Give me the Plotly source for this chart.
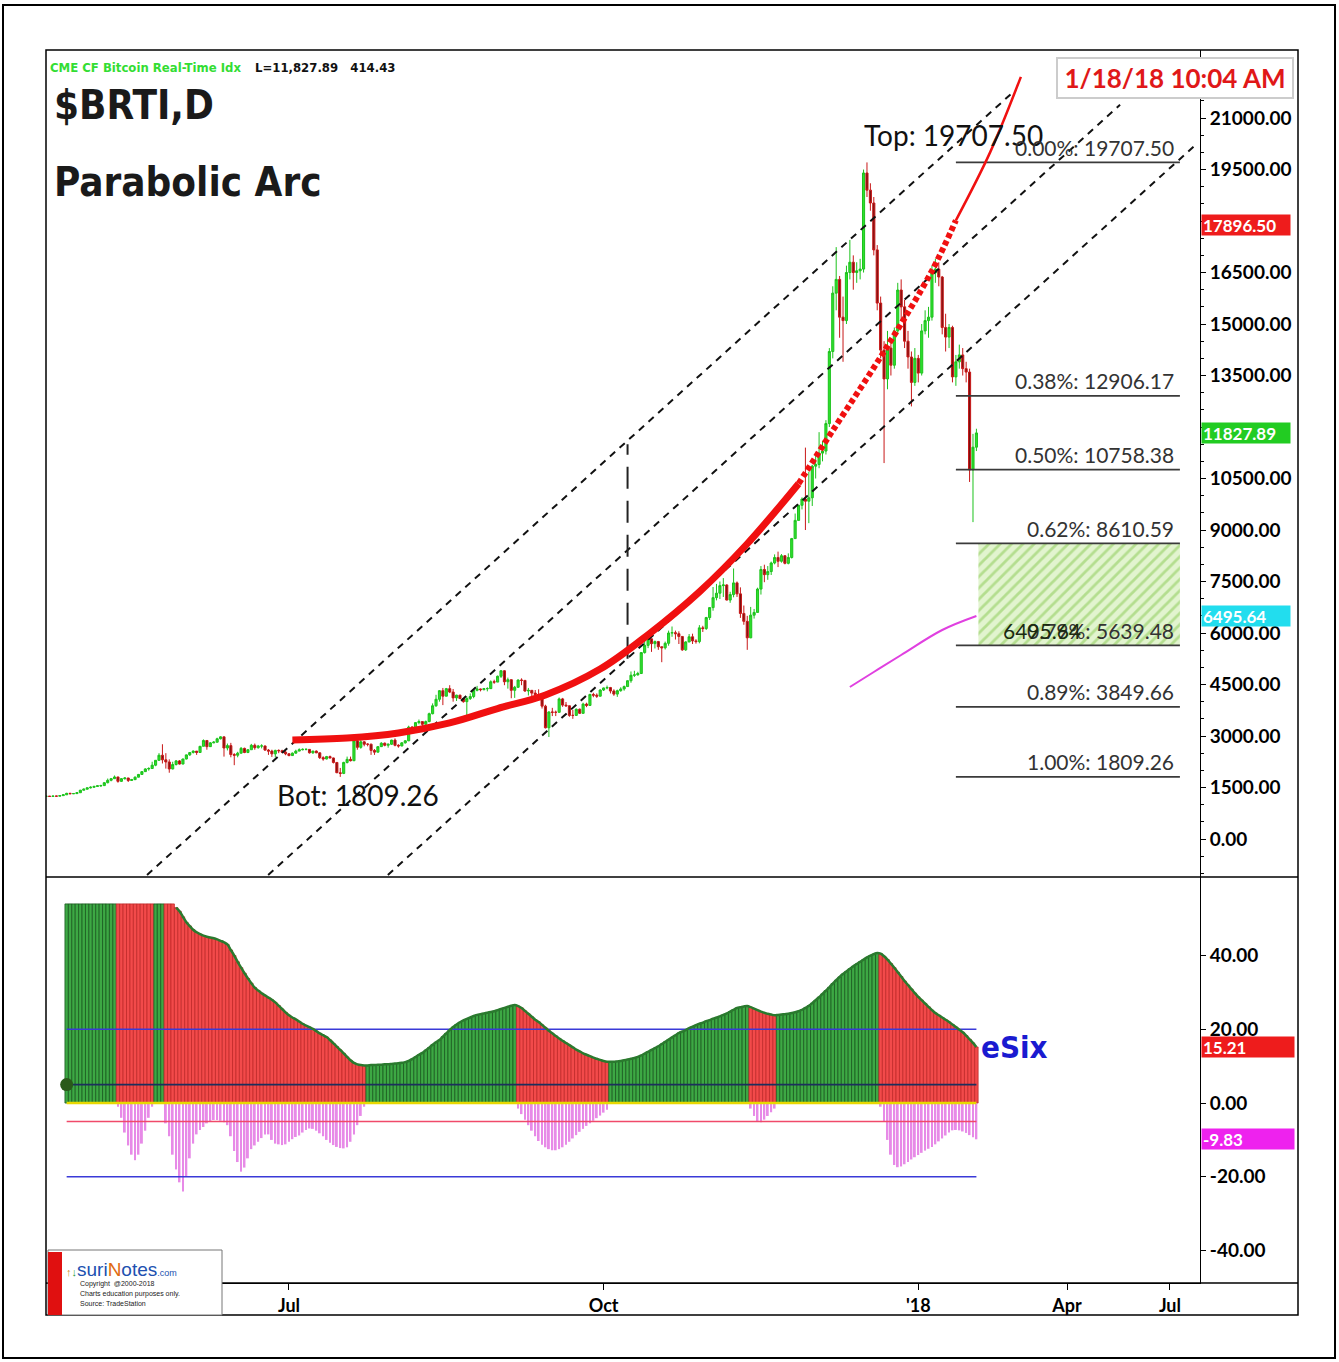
import plotly.graph_objects as go
import pandas as pd

# ---------------- price bars (daily, 2017-04-21 .. 2018-01-18) ----------------
price_start = "2017-04-21"
price_end = "2018-01-18"
first_open = 1236

close_apr = [1248, 1240, 1250, 1248, 1263, 1287, 1330, 1320, 1322, 1348]
high_apr = [1255, 1250, 1257, 1255, 1270, 1295, 1345, 1345, 1330, 1355]
low_apr = [1230, 1225, 1235, 1238, 1245, 1262, 1285, 1300, 1310, 1318]

close_may = [1421, 1451, 1490, 1507, 1532, 1549, 1555, 1640, 1710, 1757, 1807, 1679, 1757, 1777, 1706, 1728,
             1801, 1880, 1962, 2041, 2053, 2150, 2292, 2439, 2306, 2244, 2040, 2170, 2275, 2183, 2330]
high_may = [1430, 1470, 1495, 1535, 1545, 1570, 1580, 1650, 1760, 1770, 1850, 1810, 1775, 1800, 1780, 1750,
            1820, 1895, 1980, 2060, 2090, 2250, 2300, 2500, 2760, 2500, 2320, 2250, 2300, 2300, 2340]
low_may = [1345, 1415, 1440, 1470, 1490, 1520, 1520, 1550, 1620, 1680, 1750, 1640, 1660, 1730, 1660, 1690,
           1720, 1795, 1870, 1960, 1990, 2050, 2120, 2280, 2200, 2050, 1930, 2030, 2140, 2170, 2180]

close_jun = [2450, 2520, 2560, 2520, 2700, 2870, 2690, 2800, 2820, 2920, 2975, 2650, 2720, 2460, 2440,
             2500, 2640, 2520, 2600, 2730, 2660, 2710, 2710, 2590, 2560, 2480, 2580, 2570, 2530, 2480]
high_jun = [2460, 2530, 2580, 2560, 2710, 2900, 2880, 2820, 2850, 2950, 2990, 2980, 2780, 2800, 2500,
            2540, 2680, 2660, 2620, 2770, 2780, 2740, 2760, 2720, 2620, 2600, 2600, 2610, 2600, 2560]
low_jun = [2320, 2420, 2490, 2450, 2510, 2700, 2600, 2680, 2790, 2810, 2900, 2400, 2580, 2380, 2150,
           2380, 2490, 2500, 2500, 2600, 2600, 2630, 2640, 2570, 2450, 2390, 2380, 2500, 2510, 2440]

close_jul = [2430, 2500, 2560, 2600, 2610, 2610, 2510, 2560, 2510, 2370, 2330, 2400, 2360, 2230, 1930, 1910,
             2230, 2320, 2280, 2860, 2670, 2830, 2760, 2760, 2580, 2530, 2690, 2790, 2730, 2760, 2880]
high_jul = [2500, 2520, 2600, 2640, 2640, 2640, 2620, 2570, 2580, 2520, 2410, 2420, 2430, 2370, 2240, 2070,
            2250, 2400, 2400, 2900, 2920, 2880, 2850, 2790, 2780, 2620, 2700, 2820, 2810, 2780, 2890]
low_jul = [2410, 2420, 2490, 2560, 2580, 2580, 2490, 2480, 2500, 2330, 2280, 2320, 2350, 2200, 1920, 1809.26,
           1890, 2200, 2260, 2270, 2600, 2630, 2700, 2700, 2450, 2450, 2520, 2680, 2700, 2660, 2740]

close_aug = [2730, 2710, 2800, 2860, 3260, 3220, 3390, 3420, 3340, 3420, 3650, 3880, 4070, 4320, 4160, 4380,
             4280, 4110, 4190, 4090, 4000, 4090, 4150, 4330, 4370, 4350, 4380, 4380, 4580, 4570, 4740]
high_aug = [2930, 2760, 2820, 2880, 3300, 3290, 3400, 3480, 3420, 3450, 3680, 3950, 4200, 4340, 4400, 4400,
            4480, 4370, 4200, 4200, 4100, 4150, 4240, 4360, 4460, 4380, 4400, 4420, 4620, 4640, 4760]
low_aug = [2700, 2660, 2700, 2780, 2850, 3160, 3210, 3340, 3240, 3330, 3400, 3630, 3850, 4000, 3900, 4160,
           4250, 4000, 4020, 4080, 3970, 3600, 4050, 4100, 4300, 4300, 4330, 4300, 4370, 4520, 4580]

close_sep = [4900, 4580, 4640, 4330, 4420, 4630, 4620, 4310, 4330, 4250, 4210, 4170, 3870, 3240, 3700,
             3690, 3690, 4080, 3900, 3880, 3600, 3600, 3780, 3660, 3930, 3890, 4210, 4190, 4160, 4340]
high_sep = [4920, 4920, 4700, 4650, 4460, 4650, 4680, 4630, 4400, 4300, 4340, 4360, 4190, 3910, 3720,
            3820, 3740, 4120, 4110, 3990, 3890, 3760, 3800, 3800, 3970, 3970, 4230, 4260, 4240, 4360]
low_sep = [4690, 4480, 4380, 4100, 4110, 4400, 4480, 4290, 4180, 4020, 4150, 4120, 3800, 3220, 2970,
           3580, 3580, 3680, 3850, 3850, 3560, 3500, 3590, 3640, 3650, 3840, 3880, 4130, 4110, 4150]

close_oct = [4400, 4410, 4310, 4220, 4320, 4370, 4440, 4610, 4770, 4780, 4820, 5430, 5640, 5830, 5690, 5750,
             5600, 5570, 5700, 6000, 6010, 5980, 5900, 5510, 5740, 5890, 5770, 5750, 6150, 6130, 6450]
high_oct = [4410, 4470, 4430, 4360, 4350, 4420, 4470, 4620, 4880, 4900, 4870, 5440, 5850, 5840, 5840, 5780,
            5770, 5600, 5750, 6070, 6190, 6070, 6050, 5900, 5760, 5970, 5980, 5820, 6230, 6210, 6470]
low_oct = [4310, 4360, 4240, 4170, 4140, 4290, 4320, 4430, 4550, 4720, 4760, 4810, 5400, 5560, 5450, 5550,
           5510, 5150, 5520, 5630, 5890, 5810, 5680, 5480, 5480, 5730, 5680, 5690, 5700, 6030, 6090]

close_nov = [6740, 7030, 7160, 7380, 7400, 6960, 7120, 7460, 7140, 6570, 6340, 5860, 6520, 6600, 7280,
             7850, 7700, 7790, 8040, 8200, 8090, 8250, 8030, 8200, 8750, 9280, 9720, 9900, 9840, 9940]
high_nov = [6750, 7340, 7430, 7500, 7600, 7420, 7200, 7880, 7500, 7330, 6800, 6500, 6760, 6700, 7320,
            7950, 7990, 7950, 8080, 8290, 8370, 8300, 8270, 8320, 8770, 9480, 9720, 9950, 11400, 10700]
low_nov = [6380, 6650, 6950, 6990, 7050, 6950, 6880, 7040, 7050, 6440, 6240, 5510, 5850, 6420, 6600,
           7120, 7480, 7550, 7690, 8000, 7920, 8050, 8000, 8000, 8170, 8750, 9280, 9600, 9000, 9200]

close_dec = [10860, 10910, 11240, 11300, 12100, 14200, 15900, 16300, 15200, 15100, 16500, 16800, 16500, 16550,
             16600, 19400, 18900, 18525, 17160, 15610, 14240, 13400, 14300, 13800, 14800, 15990, 15500, 14500,
             14040, 13300, 14000]
high_dec = [10900, 11200, 11850, 11600, 12200, 14300, 16100, 17240, 16400, 15800, 16700, 17450, 17000, 16800,
            16900, 19500, 19707.5, 19100, 18700, 17300, 15800, 14500, 14800, 14500, 14900, 16200, 16300, 15700,
            14800, 14200, 14300]
low_dec = [9700, 10500, 10800, 11000, 11200, 12000, 14000, 15400, 14600, 13900, 15000, 16300, 16000, 16200,
           16300, 16500, 18700, 18300, 17000, 15400, 14000, 10950, 13100, 13500, 13700, 14700, 15100, 14300,
           13700, 12600, 13200]

close_jan = [13570, 14800, 15100, 15200, 16490, 16600, 16370, 14900, 14620, 14900, 13460, 13900, 14100, 13700,
             13600, 10750, 11413, 11827.89]
high_jan = [14100, 15000, 15400, 15500, 16700, 16900, 16800, 16400, 15300, 15000, 14950, 14100, 14400, 14300,
            13900, 13700, 11800, 11950]
low_jan = [13300, 13500, 14700, 14600, 15100, 16200, 16100, 14700, 14200, 14300, 13300, 13200, 13700, 13500,
           13300, 10400, 9230, 11300]

# ---------------- eSix indicator (daily, 2017-04-27 .. 2018-01-18) ----------------
esix_start = "2017-04-27"
esix_values = (
    [54] * 15 +                       # up
    [54] * 11 +                       # down
    [54] * 3 +                        # up
    [54, 54, 54, 53, 52, 50.5, 49, 48, 47, 46.3, 45.8, 45.4, 45.1, 44.9, 44.7, 44.4, 44.0, 43.6, 43.0, 41.5,
     40.0, 38.3, 36.7, 35.2, 33.8, 32.5, 31.3, 30.5, 29.8, 29.2, 28.6, 28.0, 27.3, 26.4, 25.5, 24.6, 23.8,
     23.2, 22.7, 22.1, 21.5, 21.0, 20.6, 20.1, 19.5, 18.9, 18.4, 17.9, 17.1, 16.2, 15.3, 14.4, 13.5, 12.5,
     11.6, 10.9, 10.5, 10.3, 10.2] +  # down
    [10.2, 10.3, 10.3, 10.4, 10.4, 10.5, 10.5, 10.6, 10.7, 10.8, 10.9, 11.1, 11.4, 11.9, 12.5, 13.1, 13.6,
     14.3, 15.0, 15.8, 16.5, 17.1, 18.0, 18.9, 19.8, 20.6, 21.3, 21.9, 22.4, 22.8, 23.2, 23.6, 23.9, 24.1,
     24.3, 24.5, 24.7, 24.9, 25.2, 25.5, 25.8, 26.1, 26.4, 26.6] +  # up
    [26.3, 25.8, 25.0, 24.2, 23.4, 22.6, 22.0, 21.2, 20.4, 19.6, 18.9, 18.2, 17.5, 16.9, 16.3, 15.7, 15.1,
     14.5, 14.0, 13.5, 13.1, 12.7, 12.3, 12.0, 11.7, 11.4, 11.2] +  # down
    [11.2, 11.2, 11.3, 11.4, 11.6, 11.8, 12.0, 12.2, 12.5, 12.9, 13.4, 13.9, 14.4, 14.9, 15.4, 16.0, 16.6,
     17.2, 17.8, 18.4, 19.0, 19.4, 19.8, 20.3, 20.7, 21.1, 21.5, 21.8, 22.2, 22.5, 22.9, 23.2, 23.5, 23.9,
     24.3, 24.8, 25.3, 25.8, 26.0, 26.2, 26.3] +  # up
    [26.0, 25.6, 25.2, 24.8, 24.5, 24.2, 24.0, 23.8] +  # down
    [23.9, 24.0, 24.1, 24.2, 24.4, 24.6, 24.9, 25.3, 25.8, 26.4, 27.1, 27.9, 28.7, 29.6, 30.5, 31.4, 32.4,
     33.3, 34.2, 35.0, 35.7, 36.4, 37.1, 37.7, 38.3, 38.9, 39.5, 40.0, 40.4, 40.7] +  # up
    [40.5, 39.8, 38.9, 37.8, 36.7, 35.5, 34.3, 33.1, 32.0, 30.9, 29.8, 28.8, 27.9, 27.0, 26.1, 25.2, 24.4,
     23.8, 23.2, 22.6, 22.0, 21.3, 20.6, 19.9, 19.2, 18.3, 17.3, 16.3, 15.21]  # down
)
esix_regime_lengths = [15, 11, 3, 59, 44, 27, 41, 8, 30, 29]
esix_first_regime_up = True

esix_neg_values = (
    [0] * 15 +
    [-1, -4, -8, -11.5, -14, -15.5, -14, -11, -7.5, -4, -1] +
    [0] * 3 +
    [-5.5, -9, -14, -18, -21.5, -24, -20, -15, -11, -8.5, -7.3, -6.5, -5.5, -5, -4.6, -4.6, -4.8, -5.2, -6,
     -9, -13, -16, -18.6, -17.5, -15, -12.5, -11.5, -10.5, -9.5, -8.5, -8.5, -10, -11, -11.2, -11.4, -11.2,
     -10.5, -9.8, -9.2, -8.8, -8, -7.3, -6.9, -7, -7.5, -8.2, -9, -10, -10.8, -11.4, -11.9, -12.2, -12.3,
     -12, -10.5, -8.5, -6, -3.5, -1] +
    [0] * 44 +
    [-1.5, -3, -4.5, -6, -7.5, -9, -10.3, -11.3, -12, -12.5, -12.8, -12.8, -12.5, -12, -11.3, -10.5, -9.6,
     -8.7, -7.8, -7, -6.2, -5.5, -4.8, -4.1, -3.4, -2.6, -1.8] +
    [0] * 41 +
    [-1.5, -3.5, -5, -5.2, -4.5, -3.5, -2.5, -1.5] +
    [0] * 30 +
    [-1, -5, -10, -14, -16.8, -17.4, -17.2, -16.6, -16, -15.3, -14.7, -14.1, -13.5, -12.9, -12.4, -11.9,
     -11.2, -10.4, -9.6, -8.8, -8.0, -7.4, -7.3, -7.4, -7.7, -8.1, -8.7, -9.3, -9.83]
)
esix_levels = [20, 5, 0, -5, -20]
esix_envelope_start = "2017-05-29"

# ---------------- drawings on the price panel ----------------
chan_start_dates = ["2017-05-20 12:00", "2017-06-24 22:00", "2017-07-29 22:00"]
chan_end_dates = ["2018-01-28", "2018-03-01", "2018-03-22 22:00"]
chan_start_prices = [-1049, -1049, -1049]
chan_end_prices = [21691, 21385, 20205]

arc_dates = ["2017-07-02", "2017-07-18", "2017-08-02", "2017-08-17", "2017-08-31", "2017-09-14",
             "2017-09-30", "2017-10-14", "2017-10-29", "2017-11-12", "2017-11-27", "2017-12-07",
             "2017-12-22", "2018-01-05", "2018-01-12", "2018-01-22", "2018-01-31"]
arc_prices = [2884, 2942, 3088, 3380, 3800, 4195, 4950, 5950, 7200, 8600, 10350, 11900,
              14200, 16550, 18020, 20000, 22200]

ma_dates = ["2017-12-12", "2017-12-19", "2017-12-27", "2018-01-08", "2018-01-18"]
ma_prices = [4428, 4865, 5360, 6088, 6495.64]

vline_date = "2017-10-08"
vline_prices = [5250, 11500]

fib_ratios = ["0.00", "0.38", "0.50", "0.62", "0.79", "0.89", "1.00"]
fib_prices = [19707.50, 12906.17, 10758.38, 8610.59, 5639.48, 3849.66, 1809.26]
fib_start = "2018-01-12"
fib_end = "2018-03-18 12:00"
zone_start = "2018-01-18 14:00"
zone_low, zone_high = 5639.48, 8610.59

top_price, bot_price = 19707.50, 1809.26
last_price = 11827.89
net_change = 414.43
arc_last = 17896.50
ma_last = 6495.64
esix_last = 15.21
esix_neg_last = -9.83

price_ticks = [0, 1500, 3000, 4500, 6000, 7500, 9000, 10500, 13500, 15000, 16500, 19500, 21000]
esix_ticks = [-40, -20, 0, 20, 40]
x_tick_dates = ["2017-07-01", "2017-10-01", "2018-01-01", "2018-02-13 12:00", "2018-03-15 14:00"]
x_tick_text = ["Jul", "Oct", "'18", "Apr", "Jul"]

# ---------------- assemble ----------------
dates = pd.date_range(price_start, price_end, freq="D")
closes = close_apr + close_may + close_jun + close_jul + close_aug + close_sep + close_oct + close_nov + close_dec + close_jan
highs = high_apr + high_may + high_jun + high_jul + high_aug + high_sep + high_oct + high_nov + high_dec + high_jan
lows = low_apr + low_may + low_jun + low_jul + low_aug + low_sep + low_oct + low_nov + low_dec + low_jan
assert len(closes) == len(dates) == len(highs) == len(lows), (len(closes), len(dates), len(highs), len(lows))
opens = [first_open] + closes[:-1]
highs = [max(h, o, c) for h, o, c in zip(highs, opens, closes)]
lows = [min(l, o, c) for l, o, c in zip(lows, opens, closes)]

edates = pd.date_range(esix_start, price_end, freq="D")
assert len(esix_values) == len(edates) == len(esix_neg_values) == sum(esix_regime_lengths), \
    (len(esix_values), len(edates), len(esix_neg_values), sum(esix_regime_lengths))
up_flags = []
flag = esix_first_regime_up
for n in esix_regime_lengths:
    up_flags += [flag] * n
    flag = not flag

UP_FILL, UP_LINE = "#3da844", "#1b5a20"
DN_FILL, DN_LINE = "#f24a4a", "#c02a2a"

NARROW = "Liberation Sans Narrow, Arial Narrow, DejaVu Sans Condensed, sans-serif"
LATO = "Lato, Open Sans, sans-serif"

fig = go.Figure()

fig.add_trace(go.Candlestick(
    x=dates, open=opens, high=highs, low=lows, close=closes,
    increasing=dict(line=dict(color="#1cc21c", width=1), fillcolor="#2ee02e"),
    decreasing=dict(line=dict(color="#c81818", width=1), fillcolor="#7c1010"),
    whiskerwidth=0, xaxis="x", yaxis="y", showlegend=False, hoverinfo="skip"))

# channel lines
for sd, ed, sp, ep in zip(chan_start_dates, chan_end_dates, chan_start_prices, chan_end_prices):
    fig.add_trace(go.Scatter(x=[sd, ed], y=[sp, ep], mode="lines",
                             line=dict(color="#111111", width=2, dash="7px,6px"),
                             xaxis="x", yaxis="y", showlegend=False, hoverinfo="skip"))

# vertical long-dash line
fig.add_trace(go.Scatter(x=[vline_date, vline_date], y=vline_prices, mode="lines",
                         line=dict(color="#222222", width=2, dash="22px,12px"),
                         xaxis="x", yaxis="y", showlegend=False, hoverinfo="skip"))

# hatched target zone
fig.add_trace(go.Scatter(x=[zone_start, fib_end, fib_end, zone_start, zone_start],
                         y=[zone_low, zone_low, zone_high, zone_high, zone_low],
                         mode="lines", line=dict(width=0), fill="toself", fillcolor="#d9f0c0",
                         fillpattern=dict(shape="/", fgcolor="#86c850", bgcolor="#e2f4cf", size=8, solidity=0.35),
                         xaxis="x", yaxis="y", showlegend=False, hoverinfo="skip"))

# fib lines
fx, fy = [], []
for p in fib_prices:
    fx += [fib_start, fib_end, None]
    fy += [p, p, None]
fig.add_trace(go.Scatter(x=fx, y=fy, mode="lines", line=dict(color="#3a3a3a", width=1.6),
                         xaxis="x", yaxis="y", showlegend=False, hoverinfo="skip"))

# magenta average
fig.add_trace(go.Scatter(x=ma_dates, y=ma_prices, mode="lines", line=dict(color="#e040e0", width=2, shape="spline"),
                         xaxis="x", yaxis="y", showlegend=False, hoverinfo="skip"))

# parabolic arc: thick, dotted, thin
fig.add_trace(go.Scatter(x=arc_dates[:11], y=arc_prices[:11], mode="lines",
                         line=dict(color="#f01010", width=7, shape="spline"),
                         xaxis="x", yaxis="y", showlegend=False, hoverinfo="skip"))
fig.add_trace(go.Scatter(x=arc_dates[10:15], y=arc_prices[10:15], mode="lines",
                         line=dict(color="#f01010", width=6, shape="spline", dash="5px,3px"),
                         xaxis="x", yaxis="y", showlegend=False, hoverinfo="skip"))
fig.add_trace(go.Scatter(x=arc_dates[14:], y=arc_prices[14:], mode="lines",
                         line=dict(color="#f01010", width=2.5, shape="spline"),
                         xaxis="x", yaxis="y", showlegend=False, hoverinfo="skip"))

# ---- indicator panel ----
fig.add_trace(go.Bar(x=edates, y=esix_values, width=86400000,
                     marker=dict(color=[UP_FILL if u else DN_FILL for u in up_flags],
                                 line=dict(color=[UP_LINE if u else DN_LINE for u in up_flags], width=0.8)),
                     xaxis="x2", yaxis="y2", showlegend=False, hoverinfo="skip"))
fig.add_trace(go.Bar(x=edates, y=esix_neg_values, width=86400000 * 0.55,
                     marker=dict(color="#e78ae7", line=dict(width=0)),
                     xaxis="x2", yaxis="y2", showlegend=False, hoverinfo="skip"))

level_colors = ["#3a3ad8", "#1c2f5c", "#e8d800", "#f04a6a", "#3a3ad8"]
for lv, col in zip(esix_levels, level_colors):
    fig.add_trace(go.Scatter(x=[edates[0], edates[-1]], y=[lv, lv], mode="lines",
                             line=dict(color=col, width=1.6 if lv != 0 else 2.5),
                             xaxis="x2", yaxis="y2", showlegend=False, hoverinfo="skip"))

env_mask = [d >= pd.Timestamp(esix_envelope_start) for d in edates]
fig.add_trace(go.Scatter(x=[d for d, m in zip(edates, env_mask) if m],
                         y=[v for v, m in zip(esix_values, env_mask) if m],
                         mode="lines", line=dict(color="#2a7a2e", width=2.5, shape="spline"),
                         xaxis="x2", yaxis="y2", showlegend=False, hoverinfo="skip"))
fig.add_trace(go.Scatter(x=[edates[0]], y=[esix_levels[1]], mode="markers",
                         marker=dict(color="#2a5a1a", size=13),
                         xaxis="x2", yaxis="y2", showlegend=False, hoverinfo="skip"))

# ---------------- layout ----------------
W, H = 1339, 1362
L, R, T, B = 46, 139, 50, 79
PW, PH = W - L - R, H - T - B
split = (1283 - 877) / PH


def px_x(px):
    return (px - L) / PW


def px_y(py):
    return (H - B - py) / PH


fig.update_layout(
    width=W, height=H, autosize=False,
    margin=dict(l=L, r=R, t=T, b=B),
    paper_bgcolor="white", plot_bgcolor="white",
    barmode="overlay", showlegend=False, boxgap=0.12,
    font=dict(family=LATO, color="black"),
    xaxis=dict(type="date", domain=[0, 1], anchor="y",
               range=["2017-04-20 23:00", "2018-03-24 09:00"],
               showticklabels=False, ticks="", showgrid=False, zeroline=False,
               rangeslider=dict(visible=False)),
    xaxis2=dict(type="date", domain=[0, 1], anchor="y2", matches="x",
                range=["2017-04-20 23:00", "2018-03-24 09:00"],
                tickmode="array", tickvals=x_tick_dates, ticktext=x_tick_text,
                ticks="outside", ticklen=6, tickcolor="black", showline=True, linecolor="black",
                showgrid=False, zeroline=False,
                tickfont=dict(family=LATO, size=18, color="black", weight="bold")),
    yaxis=dict(domain=[split, 1], anchor="x", side="right",
               range=[-1107, 22982], tickmode="array", tickvals=price_ticks,
               ticktext=[f"{v:.2f}" for v in price_ticks],
               ticks="outside", ticklen=5, tickcolor="black",
               minor=dict(tickmode="linear", tick0=0, dtick=500, ticks="outside", ticklen=3, tickcolor="black"),
               showline=True, linecolor="black", showgrid=False, zeroline=False,
               tickfont=dict(family=LATO, size=19, color="black", weight="bold")),
    yaxis2=dict(domain=[0, split], anchor="x2", side="right",
                range=[-48.8, 61.3], tickmode="array", tickvals=esix_ticks,
                ticktext=[f"{v:.2f}" for v in esix_ticks],
                ticks="outside", ticklen=5, tickcolor="black",
                showline=True, linecolor="black", showgrid=False, zeroline=False,
                tickfont=dict(family=LATO, size=19, color="black", weight="bold")),
)

shapes = [
    dict(type="rect", xref="paper", yref="paper", x0=px_x(3), x1=px_x(1335), y0=px_y(1358), y1=px_y(5),
         line=dict(color="black", width=2)),
    dict(type="rect", xref="paper", yref="paper", x0=px_x(46), x1=px_x(1298), y0=px_y(1315), y1=px_y(50),
         line=dict(color="black", width=1.5)),
    dict(type="line", xref="paper", yref="paper", x0=px_x(46), x1=px_x(1298), y0=px_y(877), y1=px_y(877),
         line=dict(color="black", width=1.5)),
    dict(type="line", xref="paper", yref="paper", x0=px_x(46), x1=px_x(1298), y0=px_y(1283), y1=px_y(1283),
         line=dict(color="black", width=1.5)),
    dict(type="rect", xref="paper", yref="paper", x0=px_x(48), x1=px_x(222), y0=px_y(1315), y1=px_y(1250),
         fillcolor="white", line=dict(color="#777777", width=1), layer="above"),
    dict(type="rect", xref="paper", yref="paper", x0=px_x(48), x1=px_x(62), y0=px_y(1315), y1=px_y(1252),
         fillcolor="#e01010", line=dict(width=0), layer="above"),
]
fig.update_layout(shapes=shapes)

ann = []
# header
ann.append(dict(xref="paper", yref="paper", x=px_x(48), y=px_y(68), xanchor="left", yanchor="middle",
                text="CME CF Bitcoin Real-Time Idx", showarrow=False,
                font=dict(family=NARROW, size=13, color="#33dd33", weight="bold")))
ann.append(dict(xref="paper", yref="paper", x=px_x(253), y=px_y(68), xanchor="left", yanchor="middle",
                text=f"L={last_price:,.2f}&nbsp;&nbsp;&nbsp;{net_change:.2f}", showarrow=False,
                font=dict(family=NARROW, size=13, color="#111111", weight="bold")))
ann.append(dict(xref="paper", yref="paper", x=px_x(52), y=px_y(105), xanchor="left", yanchor="middle",
                text="$BRTI,D", showarrow=False,
                font=dict(family=NARROW, size=40, color="#1a1a1a", weight="bold")))
ann.append(dict(xref="paper", yref="paper", x=px_x(52), y=px_y(182), xanchor="left", yanchor="middle",
                text="Parabolic Arc", showarrow=False,
                font=dict(family=NARROW, size=40, color="#1a1a1a", weight="bold")))
# timestamp box
ann.append(dict(xref="paper", yref="paper", x=px_x(1175), y=px_y(78), xanchor="center", yanchor="middle",
                text="1/18/18 10:04 AM", showarrow=False, bgcolor="white", bordercolor="#cccccc",
                borderwidth=2, width=232, height=36,
                font=dict(family=LATO, size=26, color="#e01818", weight="bold")))
# top / bottom labels
ann.append(dict(x="2017-12-15 12:00", y=top_price, xref="x", yref="y", xanchor="left", yanchor="middle",
                yshift=27, text=f"Top: {top_price:.2f}", showarrow=False,
                font=dict(family=LATO, size=28, color="#111111")))
ann.append(dict(x="2017-06-27", y=bot_price, xref="x", yref="y", xanchor="left", yanchor="middle",
                yshift=-18, text=f"Bot: {bot_price:.2f}", showarrow=False,
                font=dict(family=LATO, size=28, color="#111111")))
# fib labels
for r, p in zip(fib_ratios, fib_prices):
    ann.append(dict(x="2018-03-17 10:00", y=p, xref="x", yref="y", xanchor="right", yanchor="middle",
                    yshift=15, text=f"{r}%: {p:.2f}", showarrow=False,
                    font=dict(family=LATO, size=21, color="#333333")))
ann.append(dict(x="2018-01-25 07:00", y=zone_low, xref="x", yref="y", xanchor="left", yanchor="middle",
                yshift=15, text=f"{ma_last:.2f}", showarrow=False,
                font=dict(family=LATO, size=21, color="#1a2a10")))
# value boxes on the axis
for v, col, yr, w in [(arc_last, "#ee1c1c", "y", 86), (last_price, "#22cc22", "y", 86),
                      (ma_last, "#22ddee", "y", 86), (esix_last, "#ee1c1c", "y2", 90),
                      (esix_neg_last, "#ee22ee", "y2", 90)]:
    ann.append(dict(xref="paper", yref=yr, x=px_x(1201), y=v, xanchor="left", yanchor="middle",
                    text=f"{v:.2f}", showarrow=False, bgcolor=col, width=w, height=18, align="left",
                    borderpad=1, font=dict(family=LATO, size=17, color="white", weight="bold")))
# eSix label
ann.append(dict(xref="paper", yref="paper", x=px_x(979), y=px_y(1047), xanchor="left", yanchor="middle",
                text="eSix", showarrow=False,
                font=dict(family=NARROW, size=31, color="#1a1ad0", weight="bold")))
# logo
ann.append(dict(xref="paper", yref="paper", x=px_x(64), y=px_y(1269), xanchor="left", yanchor="middle",
                text='<span style="color:#d08a20;font-size:11px">↑</span><span style="color:#2a9a3a;font-size:11px">↓</span>'
                     '<span style="color:#2050b0">suri</span><span style="color:#e06a10">N</span>'
                     '<span style="color:#2050b0">otes</span><span style="color:#2050b0;font-size:9px">.com</span>',
                showarrow=False, font=dict(family="Liberation Sans, sans-serif", size=19)))
for i, line in enumerate(["Copyright&nbsp;&nbsp;@2000-2018", "Charts education purposes only.", "Source: TradeStation"]):
    ann.append(dict(xref="paper", yref="paper", x=px_x(78), y=px_y(1284 + 9.5 * i), xanchor="left",
                    yanchor="middle", text=line, showarrow=False,
                    font=dict(family="Liberation Sans, sans-serif", size=7, color="#222222")))
fig.update_layout(annotations=ann)

fig.write_html("out.html", config={"displayModeBar": False},
               post_script="document.body.style.margin='0px';document.body.style.padding='0px';")
